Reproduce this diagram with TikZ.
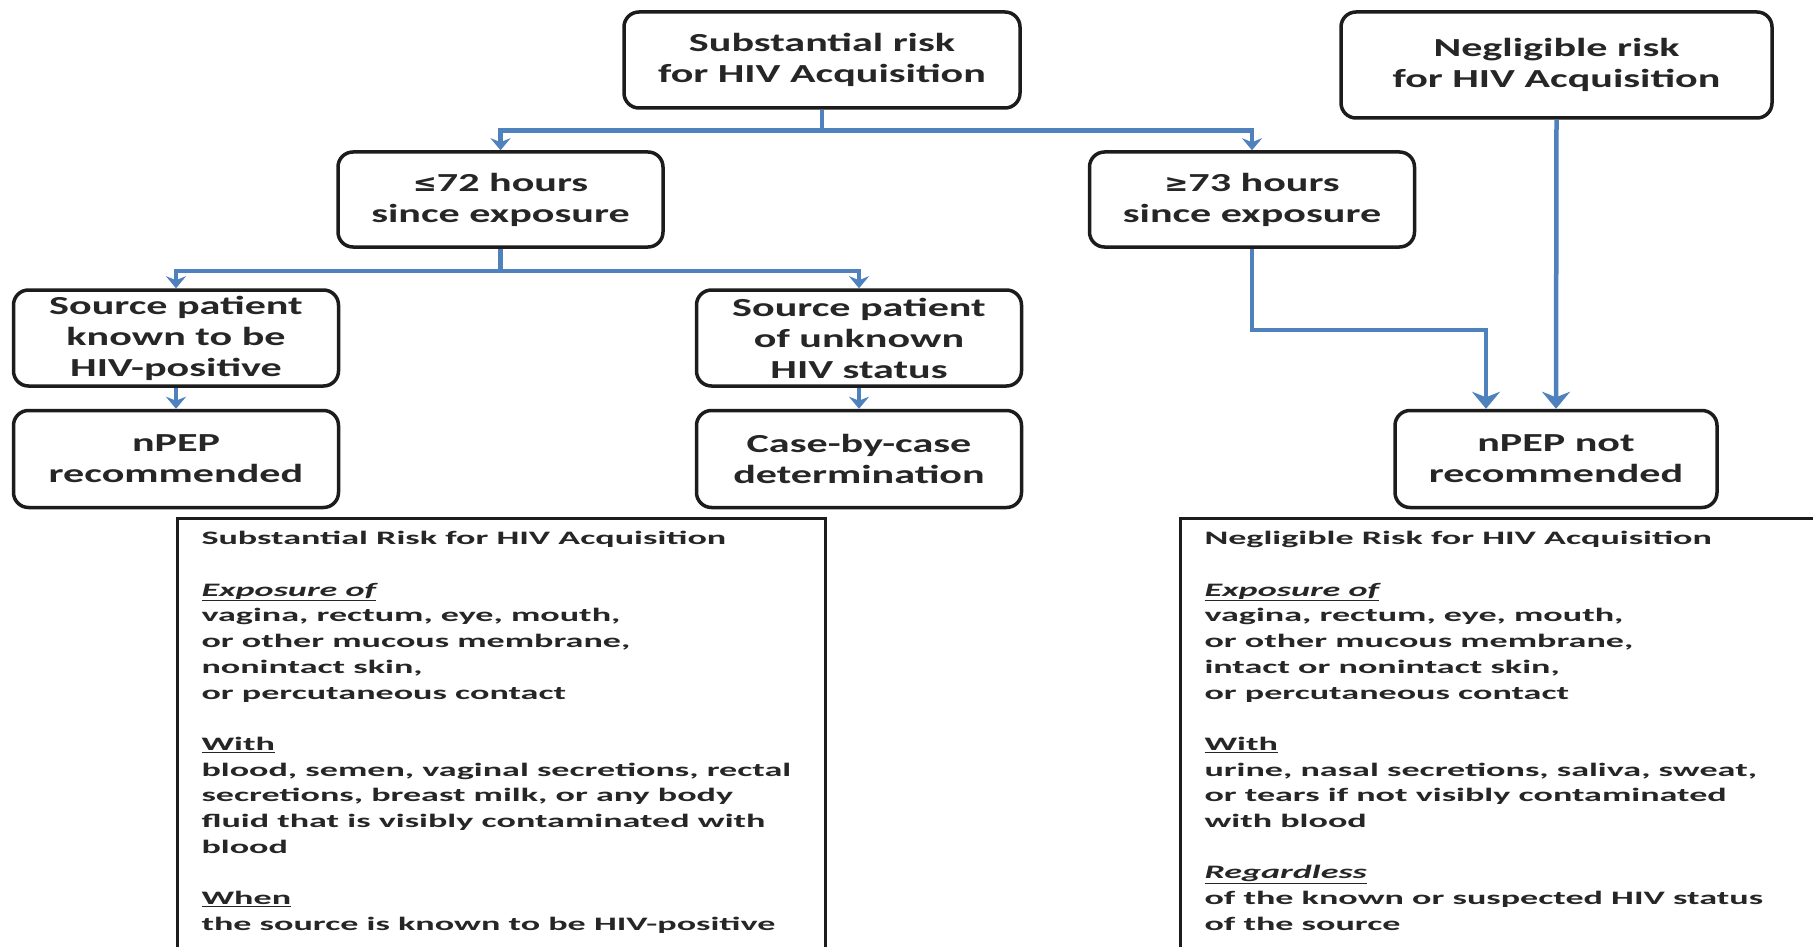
\documentclass[tikz,border=0pt]{standalone}
\usepackage{fontspec}
\usetikzlibrary{arrows.meta}
\newfontfamily\boxfont[FakeStretch=1.62]{Carlito}
\newfontfamily\txtfont[FakeStretch=1.9]{Carlito}
\newfontfamily\symfont[FakeStretch=1.2]{DejaVu Sans}
\definecolor{arrblue}{RGB}{79,129,189}
\definecolor{boxline}{RGB}{28,28,28}
\definecolor{txtcol}{RGB}{38,38,38}
\tikzset{
 fbox/.style={draw=boxline, line width=3.5pt, rounded corners=15pt, fill=white, text=txtcol, align=center, inner sep=0pt, font=\boxfont\bfseries\fontsize{26}{31}\selectfont, minimum width=325pt, minimum height=95pt},
 tbox/.style={draw=boxline, line width=3pt, fill=white, text=txtcol, anchor=north west, inner xsep=24pt, inner ysep=13pt},
 conn/.style={draw=arrblue, line width=4.5pt},
 arrs/.style={conn, -{Stealth[length=12pt,width=20pt]}},
 arrl/.style={conn, -{Stealth[length=17pt,width=28pt]}},
}
\newcommand{\tbtext}{\txtfont\bfseries\fontsize{19}{25.7}\selectfont\raggedright}
\begin{document}
\begin{tikzpicture}[x=1pt,y=-1pt]
\useasboundingbox (0,0) rectangle (1813,947);
\clip (0,0) rectangle (1813,947);
\fill[white] (0,0) rectangle (1813,947);
% flowchart boxes
\node[fbox, minimum width=396pt, minimum height=96pt] (sub) at (822,60) {Substantial risk\\for HIV Acquisition};
\node[fbox, minimum width=431pt, minimum height=106pt] (neg) at (1556.5,65) {Negligible risk\\for HIV Acquisition};
\node[fbox] (lt) at (500.5,199.5) {{\symfont\bfseries\fontsize{24}{31}\selectfont ≤}72 hours\\since exposure};
\node[fbox] (gt) at (1252,199.5) {{\symfont\bfseries\fontsize{24}{31}\selectfont ≥}73 hours\\since exposure};
\node[fbox, minimum height=96pt] (sk) at (176,338) {Source patient\\known to be\\HIV-positive};
\node[fbox, minimum height=96pt] (su) at (859,338) {Source patient\\of unknown\\HIV status};
\node[fbox, minimum height=97pt] (nr) at (176,459) {nPEP\\recommended};
\node[fbox, minimum height=97pt] (cb) at (859,459) {Case-by-case\\determination};
\node[fbox, minimum width=322pt, minimum height=97pt] (nn) at (1556,459) {nPEP not\\recommended};
% connectors
\draw[arrs] (sub.south) -- ++(0,21) -| (lt.north);
\draw[arrs] (sub.south) -- ++(0,21) -| (gt.north);
\draw[arrs] (lt.south) -- ++(0,22) -| (sk.north);
\draw[arrs] (lt.south) -- ++(0,22) -| (su.north);
\draw[arrs] (sk.south) -- (nr.north);
\draw[arrs] (su.south) -- (cb.north);
\coordinate (bend) at (1486,330);
\draw[arrl] (gt.south) |- (bend) -- (bend |- nn.north);
\draw[arrl] (neg.south) -- (nn.north);
% text boxes
\node[tbox] (lbox) at (176,517) {\parbox[t][440pt][t]{600pt}{\tbtext
Substantial Risk for HIV Acquisition\\
\mbox{}\\
\underline{\itshape Exposure of}\\
vagina, rectum, eye, mouth,\\
or other mucous membrane,\\
nonintact skin,\\
or percutaneous contact\\
\mbox{}\\
\underline{With}\\
blood, semen, vaginal secretions, rectal\\
secretions, breast milk, or any body\\
fluid that is visibly contaminated with\\
blood\\
\mbox{}\\
\underline{When}\\
the source is known to be HIV-positive}};
\node[tbox] (rbox) at (1179,517) {\parbox[t][440pt][t]{700pt}{\tbtext
Negligible Risk for HIV Acquisition\\
\mbox{}\\
\underline{\itshape Exposure of}\\
vagina, rectum, eye, mouth,\\
or other mucous membrane,\\
intact or nonintact skin,\\
or percutaneous contact\\
\mbox{}\\
\underline{With}\\
urine, nasal secretions, saliva, sweat,\\
or tears if not visibly contaminated\\
with blood\\
\mbox{}\\
\underline{\itshape Regardless}\\
of the known or suspected HIV status\\
of the source}};
\end{tikzpicture}
\end{document}
